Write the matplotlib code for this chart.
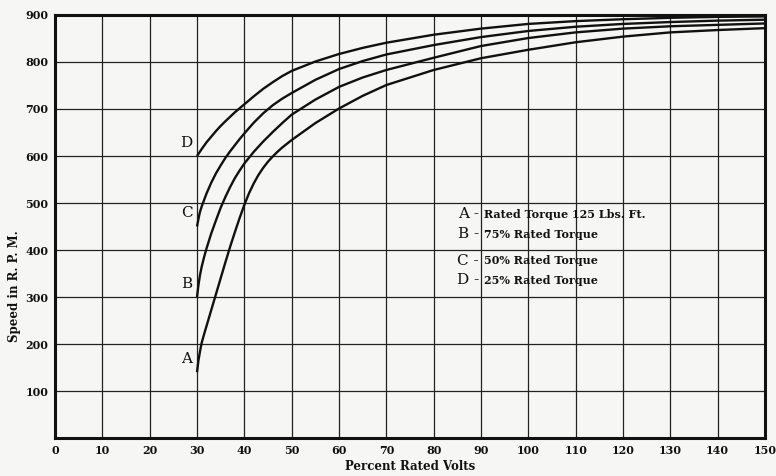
import matplotlib
matplotlib.use('Agg')
import matplotlib.pyplot as plt
import numpy as np

# speed (r.p.m.) vs percent rated volts
volts_a = [30, 30.3, 30.7, 31, 31.5, 32, 33, 34, 35, 36, 37, 38, 39, 40, 41, 42, 43, 44, 45, 46, 47, 48, 50,
           55, 60, 65, 70, 80, 90, 100, 110, 120, 130, 140, 150]
speed_a = [140, 165, 188, 203, 221, 238, 272, 306, 340, 374, 407, 438, 468, 496, 521, 542, 560, 575, 588, 599, 609, 618, 634,
           670, 701, 728, 751, 783, 808, 826, 842, 854, 863, 868, 872]

volts_b = [30, 30.3, 30.6, 31, 31.5, 32, 33, 34, 35, 36, 37, 38, 39, 40, 42, 44, 46, 48, 50,
           55, 60, 65, 70, 80, 90, 100, 110, 120, 130, 140, 150]
speed_b = [300, 325, 345, 365, 385, 403, 435, 463, 490, 513, 534, 553, 569, 584, 609, 631, 651, 670, 688,
           720, 747, 767, 783, 809, 834, 851, 863, 871, 876, 879, 882]

volts_c = [30, 30.3, 30.6, 31, 32, 33, 34, 35, 36, 37, 38, 39, 40, 42, 44, 46, 48, 50,
           55, 60, 65, 70, 80, 90, 100, 110, 120, 130, 140, 150]
speed_c = [450, 466, 480, 493, 520, 543, 563, 580, 596, 610, 623, 636, 648, 671, 691, 708, 722, 734,
           762, 785, 802, 816, 836, 853, 866, 875, 881, 885, 888, 890]

volts_d = [30, 31, 32, 33, 34, 35, 36, 38, 40, 42, 44, 46, 48, 50,
           55, 60, 65, 70, 80, 90, 100, 110, 120, 130, 140, 150]
speed_d = [600, 615, 629, 641, 653, 664, 674, 693, 710, 727, 743, 757, 770, 781,
           801, 817, 830, 841, 858, 871, 881, 887, 891, 894, 896, 897]

curve_letters = ['A', 'B', 'C', 'D']
curve_desc = ['Rated Torque 125 Lbs. Ft.', '75% Rated Torque',
              '50% Rated Torque', '25% Rated Torque']

x_ticks = list(range(0, 151, 10))
y_ticks = list(range(100, 901, 100))

serif = ['DejaVu Serif']
ink = '#111111'
paper = '#f6f6f4'

fig = plt.figure(figsize=(7.76, 4.76), dpi=100)
fig.patch.set_facecolor(paper)
ax = fig.add_axes([0.0709, 0.0798, 0.9149, 0.8887])
ax.set_facecolor(paper)

ax.set_xlim(0, 150)
ax.set_ylim(0, 900)
ax.set_xticks(x_ticks)
ax.set_yticks(y_ticks)
ax.grid(True, color='#222222', linewidth=0.9)
ax.set_axisbelow(True)
ax.tick_params(length=0, pad=5, colors=ink)
for lab in ax.get_xticklabels() + ax.get_yticklabels():
    lab.set_fontfamily(serif)
    lab.set_fontweight('bold')
    lab.set_fontsize(8)
for sp in ax.spines.values():
    sp.set_linewidth(2.2)
    sp.set_color(ink)

curves = [(volts_a, speed_a), (volts_b, speed_b), (volts_c, speed_c), (volts_d, speed_d)]
for (vx, vy), letter in zip(curves, curve_letters):
    ax.plot(vx, vy, color=ink, linewidth=1.7, solid_capstyle='butt', solid_joinstyle='round')
    # curve letter just left of where the curve starts
    ax.text(vx[0] - 1.0, vy[0] + 28, letter, ha='right', va='center',
            fontsize=11, fontfamily=serif, color=ink)

# key block in the middle of the chart
key_y = [476, 434, 377, 336]
for letter, desc, yy in zip(curve_letters, curve_desc, key_y):
    ax.text(89.6, yy, letter + ' -', ha='right', va='center', fontsize=11,
            fontfamily=serif, color=ink)
    ax.text(90.6, yy, desc, ha='left', va='center', fontsize=8,
            fontfamily=serif, fontweight='bold', color=ink)

ax.set_xlabel('Percent Rated Volts', fontsize=8.5, fontfamily=serif,
              fontweight='bold', color=ink, labelpad=3)
ax.set_ylabel('Speed in R. P. M.', fontsize=8.5, fontfamily=serif,
              fontweight='bold', color=ink)
ax.yaxis.set_label_coords(-0.048, 0.36)

fig.savefig('out.png', dpi=100, facecolor=paper)
